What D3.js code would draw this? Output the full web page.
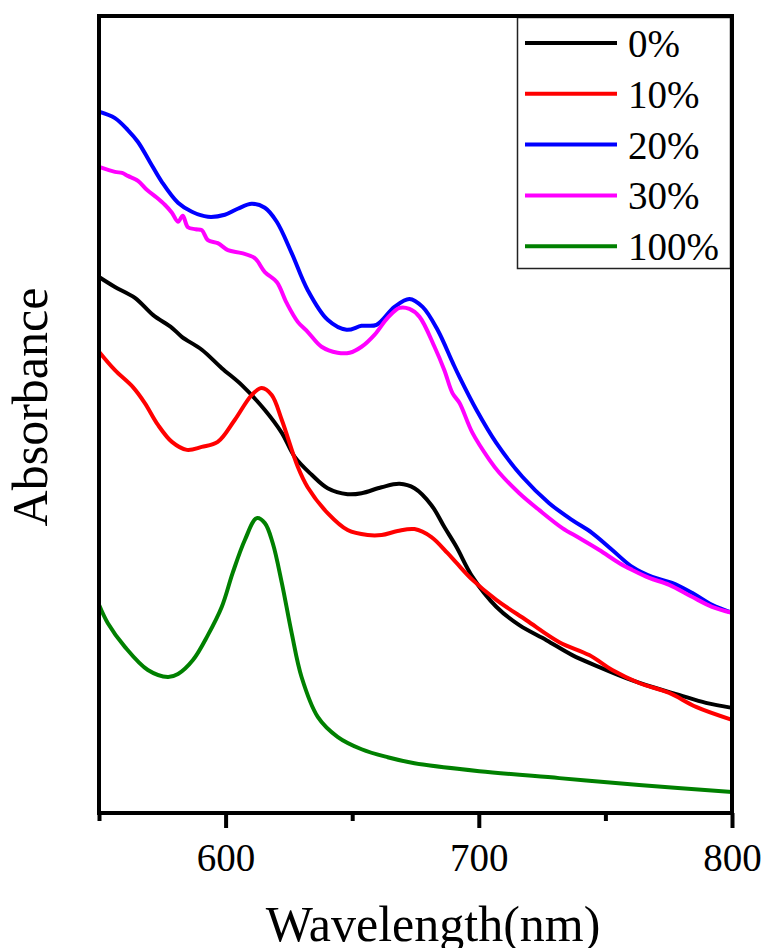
<!DOCTYPE html>
<html>
<head>
<meta charset="utf-8">
<script src="https://cdn.jsdelivr.net/npm/d3@7"></script>
<style>
  html, body { margin: 0; padding: 0; background: #fff; }
  svg { display: block; }
  text { font-family: "Liberation Serif", "Times New Roman", serif; fill: #000; }
</style>
</head>
<body>
<svg id="chart" width="766" height="948"></svg>
<script>
// UV-Vis absorbance spectra, [wavelength (nm), absorbance (a.u.)]
const spectrum0 = [
  [550,1.076],[556.3,1.056],[564.2,1.034],[571.3,1.000],[578.8,0.974],[582.7,0.956],
  [590.6,0.930],[598.5,0.893],[606.4,0.859],[615.5,0.809],[622.2,0.763],[627.3,0.715],
  [634.0,0.679],[640.3,0.652],[648.2,0.640],[653.7,0.642],[661.6,0.654],[668.7,0.661],
  [674.6,0.652],[681.3,0.618],[686.4,0.574],[691.2,0.534],[697.5,0.474],[706.9,0.414],
  [716.0,0.377],[726.7,0.347],[736.9,0.317],[747.6,0.293],[758.2,0.271],[768.5,0.253],
  [779.1,0.237],[789.7,0.221],[800,0.211]
];
const spectrum10 = [
  [550,0.926],[556.3,0.889],[563.4,0.855],[568.1,0.823],[573.3,0.779],[578.8,0.745],
  [584.7,0.729],[590.6,0.735],[596.9,0.745],[603.6,0.789],[610.3,0.839],[614.3,0.853],
  [618.2,0.839],[622.2,0.789],[628.5,0.695],[632.4,0.654],[640.3,0.602],[648.2,0.568],
  [656.1,0.558],[661.6,0.558],[667.9,0.566],[674.6,0.570],[681.3,0.554],[687.6,0.522],
  [691.2,0.502],[697.5,0.468],[706.9,0.428],[718.8,0.387],[731.8,0.343],[743.6,0.317],
  [752.7,0.287],[763.3,0.261],[775.2,0.241],[785.8,0.213],[800,0.187]
];
const spectrum20 = [
  [550,1.408],[556.3,1.395],[561.4,1.371],[565.4,1.347],[570.1,1.307],[574.8,1.267],
  [581.2,1.225],[586.7,1.207],[593.0,1.197],[599.7,1.201],[604.8,1.213],[610.3,1.223],
  [615.5,1.215],[620.2,1.187],[626.1,1.124],[632.4,1.050],[640.3,0.990],[647.8,0.970],
  [653.7,0.978],[659.6,0.980],[666.7,1.016],[672.6,1.032],[677.8,1.016],[683.7,0.970],
  [689.6,0.905],[692.4,0.875],[699.1,0.809],[706.9,0.743],[717.2,0.675],[727.8,0.622],
  [736.9,0.588],[744.8,0.562],[752.7,0.528],[760.6,0.494],[768.5,0.474],[776.3,0.462],
  [784.2,0.442],[792.1,0.418],[800,0.402]
];
const spectrum30 = [
  [550,1.297],[556.3,1.287],[559.1,1.285],[561.4,1.279],[565.4,1.269],[568.9,1.251],
  [572.9,1.235],[576.0,1.221],[578.8,1.205],[581.2,1.187],[583.1,1.199],[585.1,1.176],
  [588.2,1.172],[590.6,1.170],[593.0,1.150],[596.9,1.144],[600.9,1.130],[606.4,1.124],
  [611.5,1.114],[615.5,1.086],[620.2,1.066],[624.1,1.024],[628.5,0.986],[632.4,0.966],
  [637.9,0.936],[644.2,0.924],[649.0,0.924],[653.7,0.936],[658.8,0.960],[664.0,0.994],
  [668.7,1.014],[672.6,1.012],[676.6,0.996],[682.5,0.936],[686.4,0.889],[689.6,0.843],
  [692.4,0.823],[697.5,0.763],[704.2,0.709],[708.1,0.683],[716.0,0.642],[723.9,0.608],
  [733.0,0.572],[739.7,0.552],[747.6,0.528],[755.4,0.502],[760.6,0.488],[767.3,0.472],
  [775.2,0.458],[784.2,0.434],[792.1,0.414],[800,0.402]
];
const spectrum100 = [
  [550,0.418],[553.5,0.381],[560.3,0.333],[569.3,0.287],[577.2,0.273],[581.2,0.279],
  [587.1,0.307],[593.0,0.357],[598.5,0.414],[602.8,0.482],[607.6,0.548],[612.3,0.592],
  [615.5,0.582],[618.6,0.542],[622.2,0.462],[626.1,0.361],[630.0,0.273],[636.4,0.193],
  [644.2,0.153],[653.7,0.128],[664.0,0.112],[674.6,0.100],[700.2,0.084],[731.8,0.070],
  [763.3,0.056],[800,0.042]
];

const seriesLabels = ["0%", "10%", "20%", "30%", "100%"];
const seriesColors = ["#000000", "#ff0000", "#0000ff", "#ff00ff", "#008000"];
const seriesData = [spectrum0, spectrum10, spectrum20, spectrum30, spectrum100];

const majorTicks = [600, 700, 800];
const minorTicks = [550, 650, 750];
const xTitle = "Wavelength(nm)";
const yTitle = "Absorbance";

// Layout
const plot = { left: 99, top: 16, right: 732, bottom: 813 };

const svg = d3.select("#chart");
svg.append("rect").attr("width", 766).attr("height", 948).attr("fill", "#fff");

const x = d3.scaleLinear().domain([550, 800]).range([plot.left, plot.right]);
const y = d3.scaleLinear().domain([0, 1.6]).range([plot.bottom, plot.top]);

// Spectra
const line = d3.line()
  .x(d => x(d[0]))
  .y(d => y(d[1]))
  .curve(d3.curveCatmullRom.alpha(0.5));

svg.append("g")
  .selectAll("path")
  .data(seriesData)
  .join("path")
  .attr("d", line)
  .attr("fill", "none")
  .attr("stroke", (d, i) => seriesColors[i])
  .attr("stroke-width", 4)
  .attr("stroke-linejoin", "round")
  .attr("stroke-linecap", "butt");

// Frame
svg.append("rect")
  .attr("x", plot.left)
  .attr("y", plot.top)
  .attr("width", plot.right - plot.left)
  .attr("height", plot.bottom - plot.top)
  .attr("fill", "none")
  .attr("stroke", "#000")
  .attr("stroke-width", 4);

// Bottom axis: major ticks with labels, minor ticks without
const majorAxis = d3.axisBottom(x)
  .tickValues(majorTicks)
  .tickSize(15)
  .tickSizeOuter(0)
  .tickFormat(d3.format("d"));
const gMajor = svg.append("g")
  .attr("transform", `translate(0,${plot.bottom})`)
  .call(majorAxis);
gMajor.select(".domain").remove();
gMajor.selectAll(".tick line").attr("stroke", "#000").attr("stroke-width", 4);
gMajor.selectAll(".tick text")
  .attr("y", 58)
  .attr("dy", null)
  .attr("font-size", 39)
  .attr("font-family", "Liberation Serif, Times New Roman, serif")
  .attr("fill", "#000");

const minorAxis = d3.axisBottom(x)
  .tickValues(minorTicks)
  .tickSize(8)
  .tickSizeOuter(0)
  .tickFormat("");
const gMinor = svg.append("g")
  .attr("transform", `translate(0,${plot.bottom})`)
  .call(minorAxis);
gMinor.select(".domain").remove();
gMinor.selectAll(".tick line").attr("stroke", "#000").attr("stroke-width", 4);

// Axis titles
svg.append("text")
  .attr("x", 433)
  .attr("y", 941)
  .attr("text-anchor", "middle")
  .attr("font-size", 50)
  .text(xTitle);

svg.append("text")
  .attr("transform", "translate(47,407) rotate(-90)")
  .attr("text-anchor", "middle")
  .attr("font-size", 50)
  .text(yTitle);

// Legend
const legend = svg.append("g");
legend.append("rect")
  .attr("x", 517.5)
  .attr("y", 17.5)
  .attr("width", 213)
  .attr("height", 251)
  .attr("fill", "#fff")
  .attr("stroke", "#222")
  .attr("stroke-width", 1.5);

const rows = legend.selectAll("g.row")
  .data(seriesLabels)
  .join("g")
  .attr("class", "row")
  .attr("transform", (d, i) => `translate(0,${43 + i * 50.8})`);

rows.append("line")
  .attr("x1", 525).attr("x2", 617)
  .attr("y1", 0).attr("y2", 0)
  .attr("stroke", (d, i) => seriesColors[i])
  .attr("stroke-width", 4);

rows.append("text")
  .attr("x", 628)
  .attr("y", 14)
  .attr("font-size", 39)
  .text(d => d);

// Redraw the top edge of the frame over the legend box
svg.append("line")
  .attr("x1", plot.left - 2).attr("x2", plot.right + 2)
  .attr("y1", plot.top).attr("y2", plot.top)
  .attr("stroke", "#000").attr("stroke-width", 4);
svg.append("line")
  .attr("x1", plot.right).attr("x2", plot.right)
  .attr("y1", plot.top).attr("y2", plot.bottom)
  .attr("stroke", "#000").attr("stroke-width", 4);
</script>
</body>
</html>
